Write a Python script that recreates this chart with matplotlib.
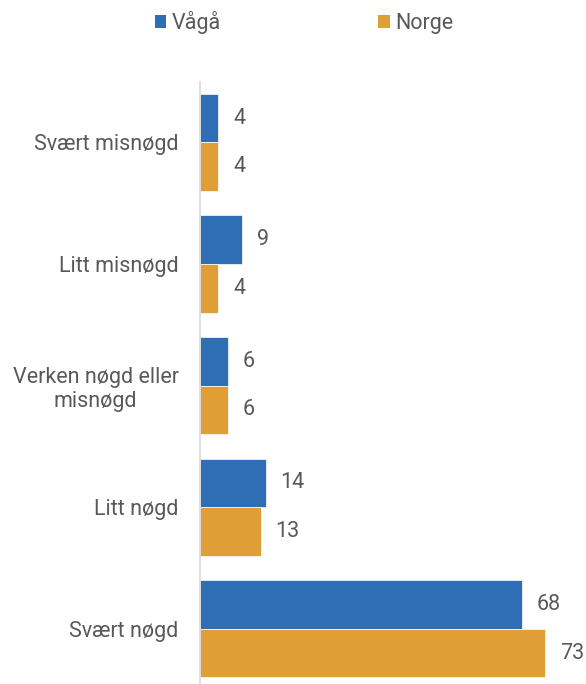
import matplotlib.pyplot as plt
import numpy as np
from matplotlib.patches import Patch

categories = ['Svært misnøgd', 'Litt misnøgd', 'Verken nøgd eller\nmisnøgd', 'Litt nøgd', 'Svært nøgd']
vaga = [4, 9, 6, 14, 68]
norge = [4, 4, 6, 13, 73]
series_names = ['Vågå', 'Norge']

blue = '#2E6EB5'
orange = '#E09F36'
text_col = '#595959'

plt.rcParams['font.family'] = ['Roboto', 'DejaVu Sans']
fs = 15.5

fig = plt.figure(figsize=(5.86, 6.84), dpi=100)
# axes: left edge at x=199.5px, top at y=81.7px, bottom below figure edge
ax = fig.add_axes([199.5 / 586, (684 - 689.6) / 684, 1 - 199.5 / 586, (689.6 - 81.7) / 684])

y = np.arange(len(categories))
h = 0.4
b1 = ax.barh(y - h / 2, vaga, height=h, color=blue, edgecolor='white', linewidth=0.5)
b2 = ax.barh(y + h / 2, norge, height=h, color=orange, edgecolor='white', linewidth=0.5)

for bars, vals in ((b1, vaga), (b2, norge)):
    for bar, v in zip(bars, vals):
        ax.annotate(str(v), (bar.get_width(), bar.get_y() + bar.get_height() / 2),
                    xytext=(10.5, 0), textcoords='offset points',
                    va='center', ha='left', fontsize=fs, color=text_col)

ax.set_ylim(len(categories) - 0.5, -0.5)
ax.set_xlim(0, (586 - 199.5) / 4.737)
ax.set_yticks(y)
ax.set_yticklabels(categories, fontsize=fs, color=text_col, multialignment='center')
ax.tick_params(axis='y', length=0, pad=15)
ax.set_xticks([])
for s in ['top', 'right', 'bottom']:
    ax.spines[s].set_visible(False)
ax.spines['left'].set_color('#D9D9D9')
ax.spines['left'].set_linewidth(1.2)

handles = [Patch(facecolor=blue), Patch(facecolor=orange)]
leg = fig.legend(handles, series_names, loc='center', bbox_to_anchor=(0.519, 1 - 23 / 684),
                 ncol=2, frameon=False, fontsize=fs, handlelength=0.55, handleheight=0.55,
                 handletextpad=0.25, columnspacing=7.3)
for t in leg.get_texts():
    t.set_color(text_col)

fig.savefig('out.png', dpi=100)
